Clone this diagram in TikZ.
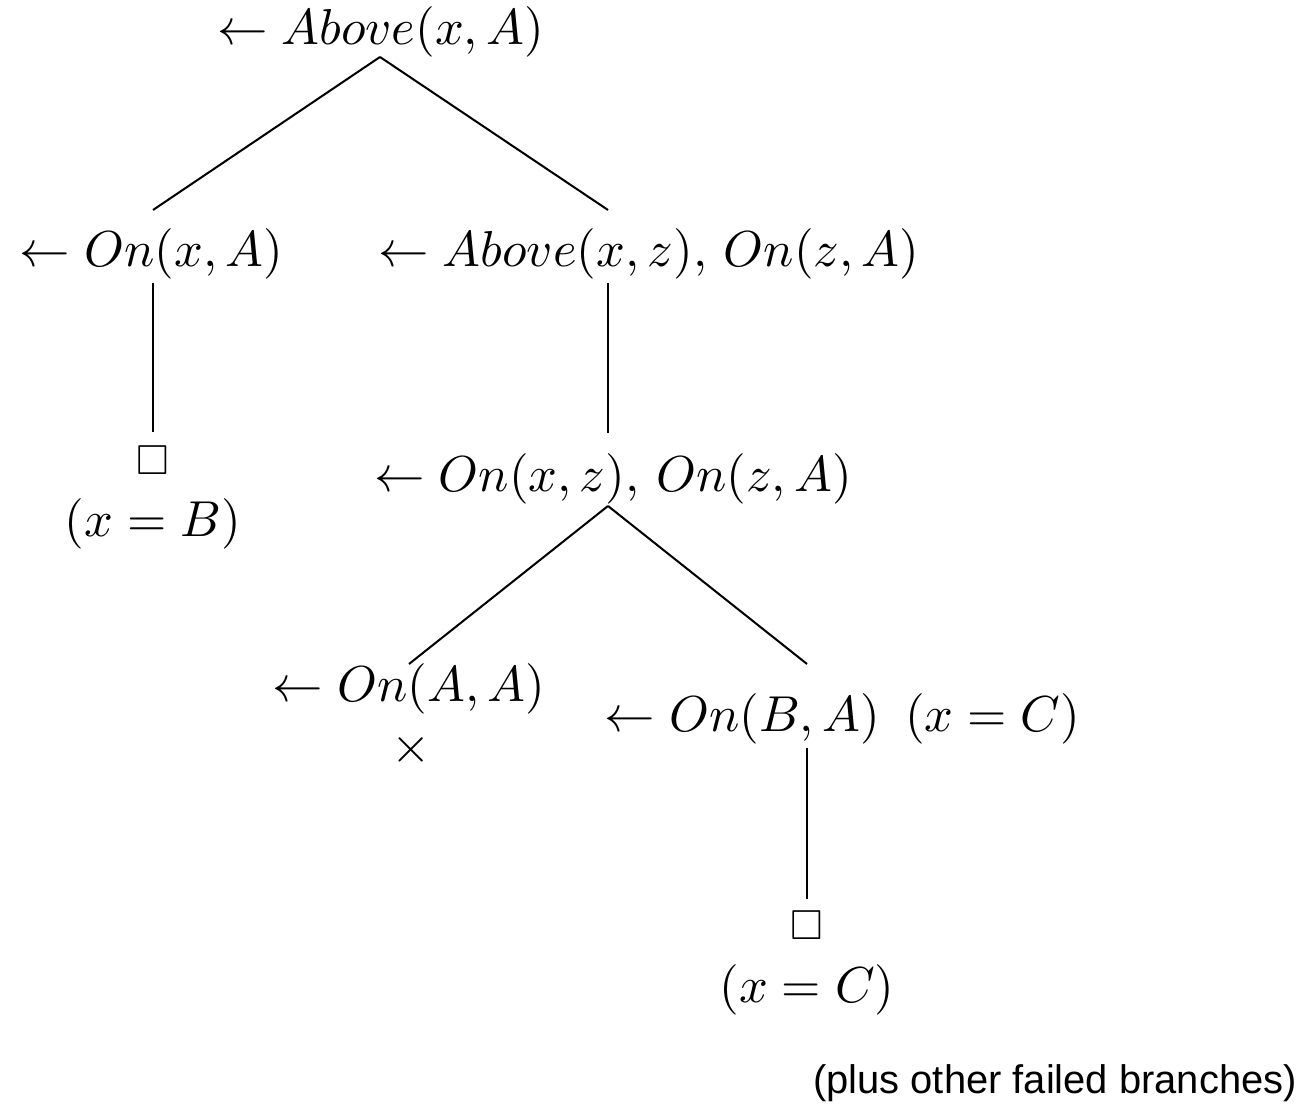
\documentclass[tikz,border=0pt]{standalone}
\usepackage{amssymb}
\usepackage{fontspec}
\newfontfamily\helv{Liberation Sans}
\begin{document}
\begin{tikzpicture}[x=0.198pt,y=-0.198pt,
  goal/.style={anchor=base,inner sep=0pt},
  leaf/.style={inner sep=0pt,font=\fontsize{8.3}{10}\selectfont}]
 \useasboundingbox (0,0) rectangle (1309,1104);
 % goals
 \node[goal] (root) at (380.5,45) {$\leftarrow Above(x,A)$};
 \node[goal] (onxa) at (151.5,267) {$\leftarrow On(x,A)$};
 \node[goal] (abz) at (649,267) {$\leftarrow Above(x,z),\,On(z,A)$};
 \node[goal] (onxz) at (613,492) {$\leftarrow On(x,z),\,On(z,A)$};
 \node[goal] (onaa) at (409,702) {$\leftarrow On(A,A)$};
 \node[goal] (onba) at (842.5,732) {$\leftarrow On(B,A)\ \,(x = C)$};
 % leaves
 \node[leaf] (box1) at (153,460) {$\square$};
 \node[goal] (xb) at (153,537) {$(x = B)$};
 \node[inner sep=0pt] (fail) at (411,750) {$\times$};
 \node[leaf] (box2) at (807,925) {$\square$};
 \node[goal] (xc) at (807,1002) {$(x = C)$};
 \node[goal,font=\helv\fontsize{7.9}{9}\selectfont] (note) at (1055,1093) {(plus other failed branches)};
 % branch ends
 \coordinate (root-b) at (380,57);
 \coordinate (onxa-t) at (153,210);
 \coordinate (onxa-b) at (153,283);
 \coordinate (box1-t) at (153,432);
 \coordinate (abz-t) at (608,210);
 \coordinate (abz-b) at (608,283);
 \coordinate (onxz-t) at (608,433);
 \coordinate (onxz-b) at (608,506);
 \coordinate (onaa-t) at (409,664);
 \coordinate (onba-t) at (807,664);
 \coordinate (onba-b) at (807,748);
 \coordinate (box2-t) at (807,899);
 \draw (root-b) -- (onxa-t);
 \draw (root-b) -- (abz-t);
 \draw (onxa-b) -- (box1-t);
 \draw (abz-b) -- (onxz-t);
 \draw (onxz-b) -- (onaa-t);
 \draw (onxz-b) -- (onba-t);
 \draw (onba-b) -- (box2-t);
\end{tikzpicture}
\end{document}
